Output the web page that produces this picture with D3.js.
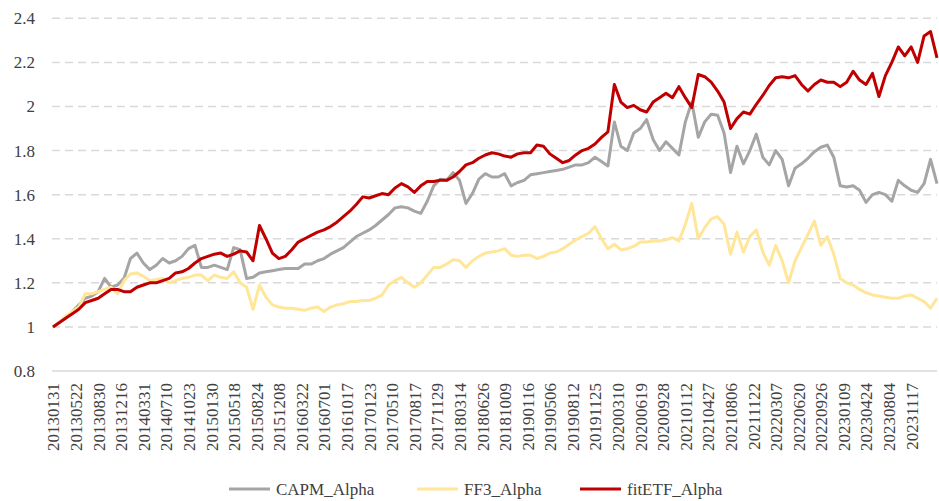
<!DOCTYPE html>
<html><head><meta charset="utf-8">
<script src="https://cdn.jsdelivr.net/npm/d3@7"></script>
<style>
html,body{margin:0;padding:0;background:#fff;}
svg text{font-family:"Liberation Serif","DejaVu Serif",serif !important;fill:#404040;}
</style></head>
<body><svg id="chart" width="939" height="501"></svg>
<script>
const dateLabels = ["20130131","20130522","20130830","20131216","20140331","20140710","20141023","20150130","20150518","20150824","20151208","20160322","20160701","20161017","20170123","20170510","20170817","20171129","20180314","20180626","20181009","20190116","20190506","20190812","20191125","20200310","20200619","20200928","20210112","20210427","20210806","20211122","20220307","20220620","20220926","20230109","20230424","20230804","20231117"];
const labelEvery = 70;   // trading days between date labels
const sampleStep = 20;   // trading days between sampled points
const totalDays = 2740;
const yTicks = [0.8,1,1.2,1.4,1.6,1.8,2,2.2,2.4];

const capmAlpha = [1.00,1.02,1.04,1.07,1.10,1.13,1.14,1.16,1.22,1.18,
1.19,1.22,1.31,1.335,1.29,1.26,1.28,1.31,1.29,1.30,
1.32,1.355,1.37,1.27,1.27,1.28,1.27,1.26,1.36,1.35,
1.22,1.225,1.245,1.25,1.255,1.26,1.265,1.265,1.265,1.285,
1.285,1.30,1.31,1.33,1.345,1.36,1.385,1.41,1.425,1.44,
1.46,1.485,1.51,1.54,1.545,1.54,1.525,1.515,1.57,1.64,
1.67,1.665,1.70,1.665,1.56,1.605,1.67,1.695,1.68,1.68,
1.695,1.64,1.655,1.665,1.69,1.695,1.70,1.705,1.71,1.715,
1.725,1.735,1.735,1.745,1.77,1.75,1.73,1.93,1.82,1.80,
1.88,1.90,1.94,1.85,1.80,1.84,1.81,1.78,1.93,2.02,
1.86,1.93,1.965,1.96,1.88,1.70,1.82,1.74,1.80,1.875,
1.77,1.735,1.80,1.76,1.64,1.72,1.74,1.765,1.795,1.815,
1.825,1.77,1.64,1.635,1.64,1.62,1.565,1.60,1.61,1.60,
1.57,1.665,1.64,1.62,1.61,1.65,1.76,1.65];

const ff3Alpha = [1.00,1.02,1.05,1.07,1.09,1.15,1.15,1.16,1.17,1.18,
1.15,1.21,1.24,1.245,1.23,1.21,1.215,1.22,1.20,1.21,
1.22,1.225,1.235,1.235,1.21,1.235,1.225,1.22,1.25,1.20,
1.18,1.08,1.19,1.135,1.10,1.09,1.085,1.085,1.08,1.075,
1.085,1.09,1.07,1.09,1.10,1.105,1.115,1.115,1.12,1.12,
1.13,1.145,1.19,1.21,1.225,1.20,1.18,1.20,1.235,1.27,
1.27,1.285,1.305,1.30,1.27,1.30,1.32,1.335,1.34,1.345,
1.355,1.325,1.32,1.325,1.325,1.31,1.32,1.335,1.34,1.355,
1.375,1.395,1.41,1.425,1.455,1.40,1.355,1.375,1.35,1.355,
1.365,1.385,1.385,1.39,1.39,1.395,1.405,1.39,1.465,1.56,
1.40,1.45,1.49,1.50,1.465,1.33,1.43,1.34,1.41,1.44,
1.34,1.28,1.37,1.30,1.20,1.30,1.36,1.42,1.48,1.37,
1.41,1.33,1.22,1.20,1.19,1.17,1.155,1.145,1.14,1.135,
1.13,1.13,1.14,1.145,1.13,1.115,1.085,1.13];

const fitEtfAlpha = [1.00,1.02,1.04,1.06,1.08,1.11,1.12,1.13,1.15,1.17,
1.17,1.16,1.16,1.18,1.19,1.20,1.20,1.21,1.22,1.245,
1.25,1.265,1.29,1.31,1.32,1.33,1.335,1.32,1.33,1.345,
1.34,1.30,1.46,1.40,1.335,1.31,1.32,1.35,1.385,1.40,
1.415,1.43,1.44,1.455,1.475,1.50,1.525,1.555,1.59,1.585,
1.595,1.605,1.60,1.63,1.65,1.635,1.61,1.64,1.66,1.66,
1.665,1.665,1.68,1.705,1.735,1.745,1.765,1.78,1.79,1.785,
1.775,1.77,1.785,1.79,1.79,1.825,1.82,1.785,1.765,1.745,
1.755,1.78,1.80,1.81,1.83,1.86,1.885,2.10,2.02,1.995,
2.005,1.985,1.975,2.02,2.04,2.06,2.04,2.09,2.04,1.995,
2.145,2.135,2.11,2.07,2.02,1.90,1.945,1.975,1.965,2.01,
2.05,2.095,2.13,2.135,2.13,2.14,2.10,2.07,2.10,2.12,
2.11,2.11,2.09,2.11,2.16,2.12,2.10,2.15,2.045,2.14,
2.20,2.27,2.23,2.27,2.20,2.32,2.34,2.22];

const seriesNames = ["CAPM_Alpha","FF3_Alpha","fitETF_Alpha"];
const seriesColors = ["#A5A5A5","#FFE699","#C00000"];
const seriesValues = [capmAlpha, ff3Alpha, fitEtfAlpha];

const FONT = '"Liberation Serif", "DejaVu Serif", serif';
const svg = d3.select("#chart");
const x = d3.scaleLinear().domain([0, totalDays]).range([53, 937]);
const y = d3.scaleLinear().domain([0.8, 2.4]).range([371, 18.3]);

// gridlines
svg.append("g").selectAll("line").data(yTicks).join("line")
  .attr("x1", 52).attr("x2", 937)
  .attr("y1", d => y(d)).attr("y2", d => y(d))
  .attr("stroke", "#D9D9D9").attr("stroke-width", 1.5)
  .attr("stroke-dasharray", d => d === 0.8 ? null : "8,5");

// y axis
const yAxis = svg.append("g").attr("transform", "translate(52,0)")
  .call(d3.axisLeft(y).tickValues(yTicks).tickFormat(d => String(d)).tickSize(0).tickPadding(17));
yAxis.attr("font-family", FONT).attr("font-size", 17);
yAxis.select(".domain").remove();
yAxis.selectAll("text").attr("fill", "#404040");

// x axis
const xAxis = svg.append("g").attr("transform", "translate(0,371)")
  .call(d3.axisBottom(x).tickValues(dateLabels.map((_, i) => i * labelEvery))
    .tickFormat((d, i) => dateLabels[i]).tickSize(0));
xAxis.attr("font-family", FONT).attr("font-size", 17);
xAxis.select(".domain").remove();
xAxis.selectAll("text")
  .attr("transform", "rotate(-90)")
  .attr("x", -12).attr("y", 0).attr("dy", "0.35em")
  .attr("text-anchor", "end")
  .attr("fill", "#404040");

// lines
const line = d3.line().x((d, i) => x(i * sampleStep)).y(d => y(d));
svg.append("g").selectAll("path").data(seriesValues).join("path")
  .attr("d", d => line(d))
  .attr("fill", "none")
  .attr("stroke", (d, i) => seriesColors[i])
  .attr("stroke-width", 3)
  .attr("stroke-linejoin", "round");

// legend
const legendX = [229, 417, 580];
const lg = svg.append("g").attr("transform", "translate(0,489)")
  .attr("font-family", FONT).attr("font-size", 17);
seriesNames.forEach((name, i) => {
  lg.append("line").attr("x1", legendX[i]).attr("x2", legendX[i] + 41)
    .attr("y1", 0).attr("y2", 0).attr("stroke", seriesColors[i]).attr("stroke-width", 3);
  lg.append("text").attr("x", legendX[i] + 47).attr("y", 0).attr("dy", "0.35em")
    .text(name);
});
</script></body></html>
